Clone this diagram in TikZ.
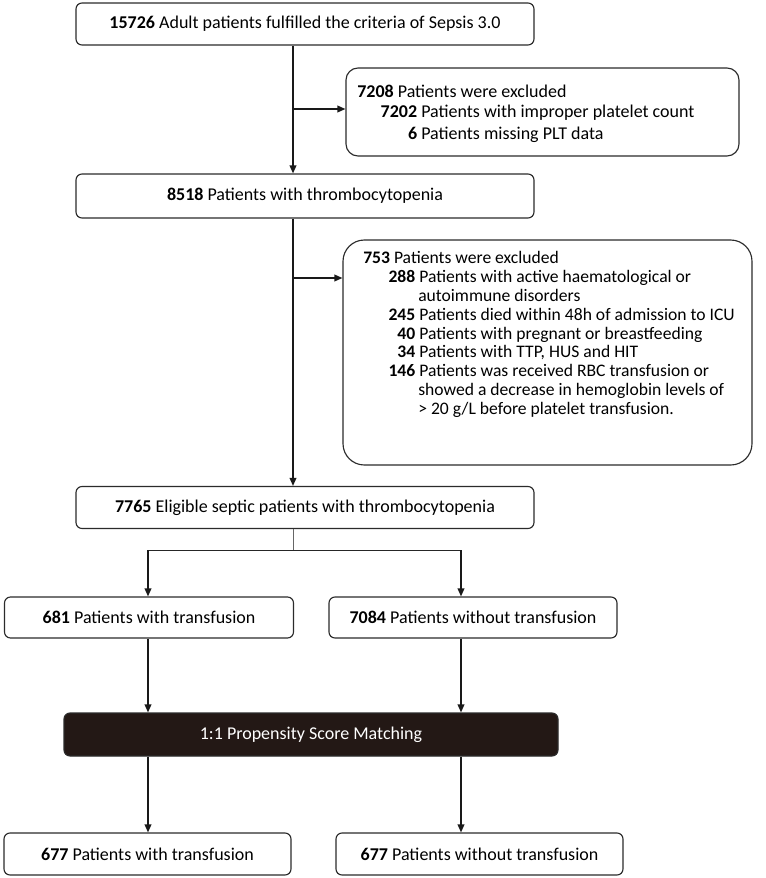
\documentclass[tikz,border=0pt]{standalone}
\usepackage{fontspec}
\setmainfont{Carlito}
\newfontfamily\boxfont{Carlito}
\usetikzlibrary{arrows.meta,calc}
\definecolor{edge}{HTML}{2B2B2B}
\definecolor{psmfill}{HTML}{231815}
\begin{document}
\begin{tikzpicture}[x=0.75pt,y=-0.75pt,
  box/.style={draw=edge, line width=0.85pt, rounded corners=4.5pt, fill=white, inner sep=0pt,
    font=\boxfont\fontsize{13.5}{16}\selectfont},
  excl/.style={draw=edge, line width=0.85pt, fill=white, inner sep=0pt},
  txta/.style={inner sep=0pt, font=\fontsize{13.5}{16}\selectfont},
  txtb/.style={inner sep=0pt, font=\fontsize{13.2}{15}\selectfont},
  psm/.style={draw=edge, line width=0.85pt, rounded corners=4.5pt, fill=psmfill, text=white, inner sep=0pt,
    font=\boxfont\fontsize{13.5}{16}\selectfont},
  arr/.style={draw=black!90, line width=1.1pt, -{Triangle[length=6pt,width=5pt]}},
  stub/.style={draw=black!60, line width=0.75pt}
]
\useasboundingbox (0,0) rectangle (765,878);
% coordinates
\coordinate (spine) at (293,0);
\coordinate (lft) at (148,0);
\coordinate (rgt) at (461,0);
\coordinate (j1) at (293,109);
\coordinate (j2) at (293,278);
\coordinate (br) at (293,550);

% main boxes
\node[box, minimum width=343.5pt, minimum height=31.5pt] (b1) at (305,24)
  {\textbf{15726} Adult patients fulfilled the criteria of Sepsis 3.0};
\node[box, minimum width=343.5pt, minimum height=33pt] (b2) at (305,196)
  {\textbf{8518} Patients with thrombocytopenia};
\node[box, minimum width=343.5pt, minimum height=31.5pt] (b3) at (305,507.5)
  {\textbf{7765} Eligible septic patients with thrombocytopenia};
\node[box, minimum width=216.75pt, minimum height=30.75pt] (b4) at (149,617.5)
  {\textbf{681} Patients with transfusion};
\node[box, minimum width=216pt, minimum height=30.75pt] (b5) at (473,617.5)
  {\textbf{7084} Patients without transfusion};
\node[psm, minimum width=370.5pt, minimum height=32.25pt] (m) at (311,734.5)
  {1:1 Propensity Score Matching};
\node[box, minimum width=215.25pt, minimum height=31.5pt] (b6) at (147.5,854)
  {\textbf{677} Patients with transfusion};
\node[box, minimum width=215.25pt, minimum height=31.5pt] (b7) at (479.5,854)
  {\textbf{677} Patients without transfusion};

% exclusion box 1
\node[excl, rounded corners=9pt, minimum width=294.75pt, minimum height=66pt] (e1) at (542.5,112) {};
\node[txta, anchor=base west] (e1a) at (357,97) {\textbf{7208} Patients were excluded};
\node[txta, anchor=base west] (e1b) at (421,117) {\llap{\textbf{7202}\ }Patients with improper platelet count};
\node[txta, anchor=base west] (e1c) at (421,139) {\llap{\textbf{6}\ }Patients missing PLT data};

% exclusion box 2
\node[excl, rounded corners=16pt, minimum width=306.75pt, minimum height=168.75pt] (e2) at (547.5,352.5) {};
\node[txtb, anchor=base west] (e2a) at (363,263) {\textbf{753} Patients were excluded};
\node[txtb, anchor=base west] (e2b) at (419,282) {\llap{\textbf{288}\ }Patients with active haematological or};
\node[txtb, anchor=base west] (e2c) at (418,301) {autoimmune disorders};
\node[txtb, anchor=base west] (e2d) at (419,320) {\llap{\textbf{245}\ }Patients died within 48h of admission to ICU};
\node[txtb, anchor=base west] (e2e) at (419,339) {\llap{\textbf{40}\ }Patients with pregnant or breastfeeding};
\node[txtb, anchor=base west] (e2f) at (419,357.5) {\llap{\textbf{34}\ }Patients with TTP, HUS and HIT};
\node[txtb, anchor=base west] (e2g) at (419,376.5) {\llap{\textbf{146}\ }Patients was received RBC transfusion or};
\node[txtb, anchor=base west] (e2h) at (418,395.5) {showed a decrease in hemoglobin levels of};
\node[txtb, anchor=base west] (e2i) at (418,414.5) {> 20 g/L before platelet transfusion.};

% connectors
\draw[arr] (b1.south -| spine) -- (b2.north -| spine);
\draw[arr] (j1) -- (j1 -| e1.west);
\draw[arr] (b2.south -| spine) -- (b3.north -| spine);
\draw[arr] (j2) -- (j2 -| e2.west);
\draw[stub] (b3.south -| spine) -- (br);
\draw[line width=0.75pt, draw=black!85] (br -| lft) -- (br -| rgt);
\draw[arr] (br -| lft) -- (b4.north -| lft);
\draw[arr] (br -| rgt) -- (b5.north -| rgt);
\draw[arr] (b4.south -| lft) -- (m.north -| lft);
\draw[arr] (b5.south -| rgt) -- (m.north -| rgt);
\draw[arr] (m.south -| lft) -- (b6.north -| lft);
\draw[arr] (m.south -| rgt) -- (b7.north -| rgt);
\end{tikzpicture}
\end{document}
